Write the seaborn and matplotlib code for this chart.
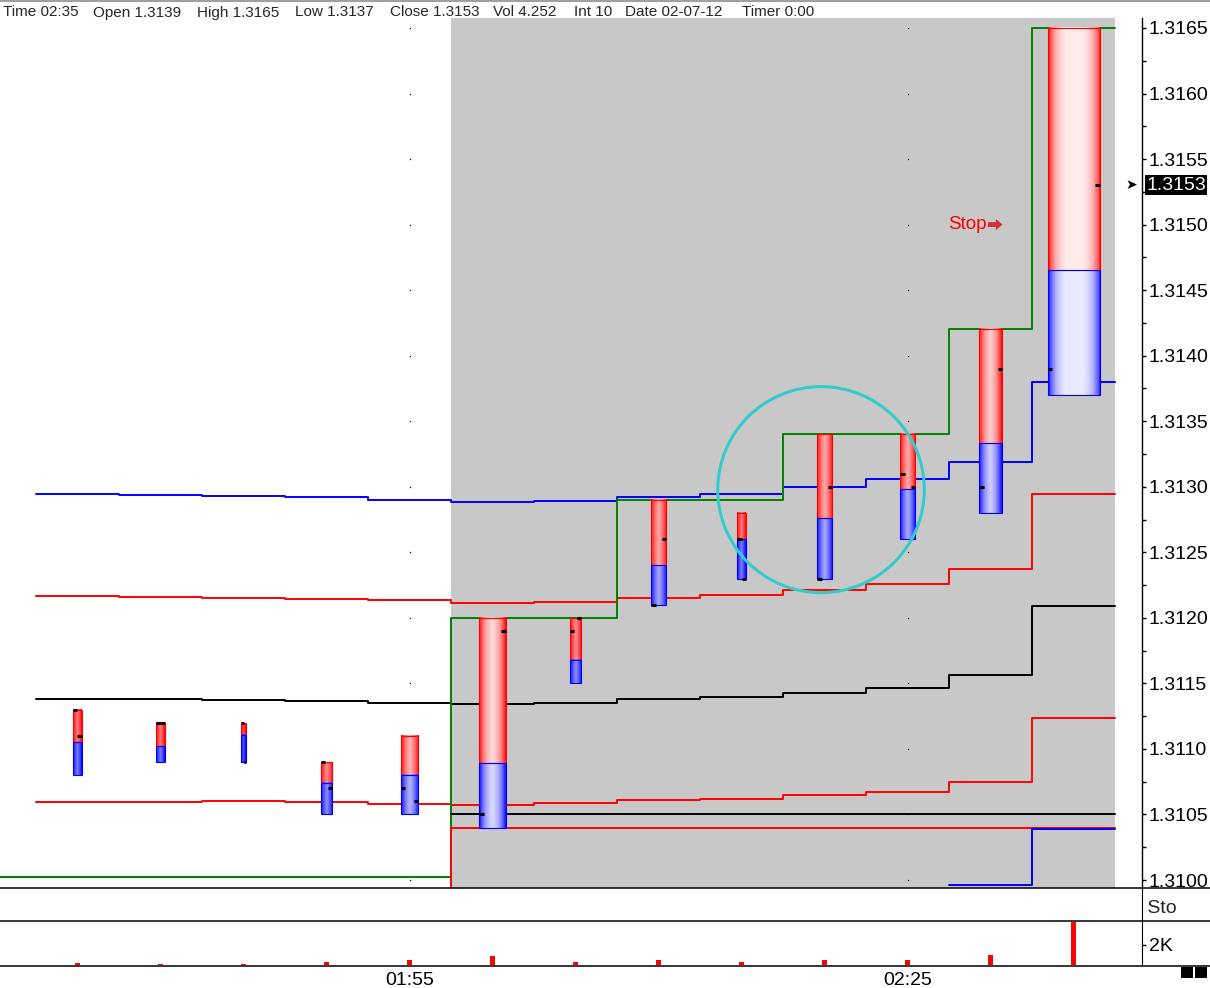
import numpy as np
import seaborn as sb
import matplotlib
matplotlib.use("Agg")
import matplotlib.pyplot as plt
from matplotlib.patches import Rectangle, Ellipse
from matplotlib.lines import Line2D
from matplotlib.ticker import MultipleLocator, FormatStrFormatter

# 5 min bars, 01:35 .. 02:35
times = ["01:35", "01:40", "01:45", "01:50", "01:55", "02:00", "02:05",
         "02:10", "02:15", "02:20", "02:25", "02:30", "02:35"]
opens = [1.3113, 1.3112, 1.3112, 1.3109, 1.3107, 1.3105, 1.3119,
         1.3121, 1.3126, 1.3123, 1.3131, 1.3130, 1.3139]
highs = [1.3113, 1.3112, 1.3112, 1.3109, 1.3111, 1.3120, 1.3120,
         1.3129, 1.3128, 1.3134, 1.3134, 1.3142, 1.3165]
lows = [1.3108, 1.3109, 1.3109, 1.3105, 1.3105, 1.3104, 1.3115,
        1.3121, 1.3123, 1.3123, 1.3126, 1.3128, 1.3137]
closes = [1.3111, 1.3112, 1.3109, 1.3107, 1.3106, 1.3119, 1.3120,
          1.3126, 1.3123, 1.3130, 1.3130, 1.3139, 1.3153]
splits = [1.31105, 1.31102, 1.31111, 1.31074, 1.31080, 1.31089, 1.31168,
          1.31240, 1.31260, 1.31276, 1.31298, 1.31333, 1.31465]
volumes = [230, 100, 100, 330, 540, 910, 330, 540, 330, 540, 540, 1010, 4252]
bar_width = [0.108, 0.108, 0.060, 0.133, 0.205, 0.325, 0.133,
             0.181, 0.108, 0.181, 0.181, 0.277, 0.627]

# bands
upper_blue = [1.312947, 1.312940, 1.312932, 1.312924, 1.312901, 1.312886, 1.312891,
              1.312924, 1.312947, 1.313001, 1.313062, 1.313191, 1.313802]
upper_red = [1.312167, 1.312159, 1.312154, 1.312146, 1.312134, 1.312116, 1.312121,
             1.312151, 1.312177, 1.312212, 1.312258, 1.312373, 1.312945]
mid_black = [1.311383, 1.311383, 1.311376, 1.311368, 1.311350, 1.311345, 1.311353,
             1.311383, 1.311398, 1.311429, 1.311467, 1.311566, 1.312093]
lower_red = [1.310597, 1.310597, 1.310605, 1.310597, 1.310582, 1.310572, 1.310587,
             1.310612, 1.310620, 1.310648, 1.310674, 1.310750, 1.311238]

# session lines (None = not drawn)
sess_high = [1.31002] * 5 + [1.3120, 1.3120, 1.3129, 1.3129, 1.3134, 1.3134, 1.3142, 1.3165]
sess_low = [None] * 4 + [1.3090] + [1.3104] * 8
sess_open = [None] * 5 + [1.3105] * 8
low_blue = [None] * 11 + [1.30996, 1.31039]

header = ["Time 02:35", "Open 1.3139", "High 1.3165", "Low 1.3137", "Close 1.3153",
          "Vol 4.252", "Int 10", "Date 02-07-12", "Timer 0:00"]
header_x = [3, 93, 197, 295, 390, 493, 574, 625, 742]
last_price = 1.3153
time_ticks = [4, 10]

sb.set_style("white")
plt.rcParams["font.family"] = ["Liberation Sans", "DejaVu Sans"]

W, H = 1210, 988
def fx(px):
    return px / W
def fy(py):
    return 1 - py / H

fig = plt.figure(figsize=(12.1, 9.88), dpi=100)
ax = fig.add_axes([0, fy(888), fx(1142), 870 / H])
axs = fig.add_axes([0, fy(921), fx(1142), 33 / H])
axv = fig.add_axes([0, fy(965), fx(1142), 44 / H])

XL = (-0.9337, 12.825)
YL = (1.309939, 1.316576)
px_per_x = 1142 / (XL[1] - XL[0])

ax.axvspan(4.5, 12.5, color="#c8c8c8", lw=0, zorder=0)

# dotted grid at the time ticks
lev = np.arange(1.3100, 1.31651, 0.0005)
for t in time_ticks:
    ax.plot([t] * len(lev), lev, ls="none", marker="s", ms=0.9, mew=0,
            color="black", zorder=1)


def step_line(vals, color, x0=None, lw=1.4):
    pts = [(i, v) for i, v in enumerate(vals) if v is not None]
    xs = [i - 0.5 for i, _ in pts] + [pts[-1][0] + 0.5]
    ys = [v for _, v in pts] + [pts[-1][1]]
    if x0 is not None:
        xs[0] = x0
    sb.lineplot(x=xs, y=ys, ax=ax, color=color, lw=lw, drawstyle="steps-post",
                estimator=None, sort=False, zorder=2)


step_line(upper_blue, "#0000ff")
step_line(upper_red, "#ff0000")
step_line(mid_black, "#000000")
step_line(lower_red, "#ff0000")
step_line(sess_high, "#008000", x0=-1.5)
step_line(sess_low, "#ff0000")
step_line(sess_open, "#000000")
step_line(low_blue, "#0000ff")


def grad(base, w_px, n=64):
    j = np.arange(n)
    d = np.minimum(j + 0.5, n - j - 0.5) / n * w_px
    f = np.clip(1 - np.exp(-d / 7.0), 0, 0.92)
    base = np.array(base, dtype=float)
    col = base[None, :] * (1 - f[:, None]) + f[:, None]
    return col[None, :, :]


for i in range(len(times)):
    w = bar_width[i]
    x0, x1 = i - w / 2, i + w / 2
    wpx = w * px_per_x
    ax.imshow(grad((1, 0, 0), wpx), extent=(x0, x1, splits[i], highs[i]),
              aspect="auto", interpolation="nearest", zorder=3)
    ax.imshow(grad((0, 0, 1), wpx), extent=(x0, x1, lows[i], splits[i]),
              aspect="auto", interpolation="nearest", zorder=3)
    ax.add_patch(Rectangle((x0, splits[i]), w, highs[i] - splits[i], fill=False,
                           ec="#ff0000", lw=0.8, zorder=3.5))
    ax.add_patch(Rectangle((x0, lows[i]), w, splits[i] - lows[i], fill=False,
                           ec="#0000ff", lw=0.8, zorder=3.6))
    tl = min(4.5 / px_per_x, w / 2)
    ax.hlines(opens[i], x0, x0 + tl, color="black", lw=2.2, zorder=5)
    ax.hlines(closes[i], x1 - tl, x1, color="black", lw=2.2, zorder=5)

ax.add_patch(Ellipse((8.958, 1.312978), 2.489, 0.0015716, fill=False,
                     ec="#33cccc", lw=2.2, zorder=6))

ax.text(10.488, 1.31500, "Stop", color="#ff0000", fontsize=13.5, ha="left",
        va="center", zorder=7)
ax.annotate("", xy=(11.145, 1.31500), xytext=(10.97, 1.31500),
            arrowprops=dict(arrowstyle="simple,head_length=0.3,head_width=0.5,tail_width=0.22",
                            color="#d03030", lw=0, shrinkA=0, shrinkB=0,
                            mutation_scale=16), zorder=7)

ax.set_xlim(*XL)
ax.set_ylim(*YL)
ax.yaxis.tick_right()
ax.yaxis.set_major_locator(MultipleLocator(0.0005))
ax.yaxis.set_minor_locator(MultipleLocator(0.00025))
ax.yaxis.set_major_formatter(FormatStrFormatter("%.4f"))
ax.tick_params(axis="y", which="both", direction="out", length=3, width=1,
               right=True, left=False, labelsize=14, pad=2, colors="black")
ax.set_xticks([])
ax.set_xlabel("")
ax.set_ylabel("")
for s in ["left", "top", "bottom"]:
    ax.spines[s].set_visible(False)
ax.spines["right"].set_color("black")
ax.spines["right"].set_linewidth(1)

# current price marker
ax.annotate("1.3153", xy=(1.0, last_price), xycoords=("axes fraction", "data"),
            xytext=(3, 0), textcoords="offset points", color="white",
            fontsize=14, ha="left", va="center",
            bbox=dict(boxstyle="square,pad=0.08", fc="black", ec="none"),
            annotation_clip=False, zorder=8)
ax.annotate("➤", xy=(1.0, last_price), xycoords=("axes fraction", "data"),
            xytext=(-7.5, 0), textcoords="offset points", color="black",
            fontsize=10, ha="center", va="center", family="DejaVu Sans",
            annotation_clip=False)

# Sto panel
axs.set_xlim(*XL)
axs.set_xticks([])
axs.set_yticks([])
for s in ["left", "top", "bottom"]:
    axs.spines[s].set_visible(False)
axs.spines["right"].set_color("black")
axs.text(1.0, 0.38, " Sto", transform=axs.transAxes, fontsize=14,
         ha="left", va="center")

# volume panel
sb.barplot(x=list(range(len(times))), y=volumes, ax=axv, color="#ff0000",
           saturation=1, width=0.06, native_scale=True, linewidth=0)
axv.set_xlim(*XL)
axv.set_ylim(0, 4350)
axv.yaxis.tick_right()
axv.set_yticks([2000])
axv.set_yticklabels(["2K"])
axv.set_xticks(time_ticks)
axv.set_xticklabels([times[t] for t in time_ticks])
axv.tick_params(axis="both", direction="out", length=3, width=1, labelsize=14,
                pad=2, colors="black")
axv.tick_params(axis="y", left=False, right=True)
axv.set_xlabel("")
axv.set_ylabel("")
for s in ["left", "top", "bottom"]:
    axv.spines[s].set_visible(False)
axv.spines["right"].set_color("black")

# panel separators
for py in [888, 921, 965.5]:
    fig.add_artist(Line2D([0, 1], [fy(py), fy(py)], color="black", lw=1.1))
fig.add_artist(Line2D([0, 1], [fy(0.8), fy(0.8)], color="#a0a0a0", lw=1.5))

# header
for txt, x in zip(header, header_x):
    fig.text(fx(x), fy(16.5), txt, fontsize=11, ha="left", va="baseline")

# window icon bottom right
for x0 in [1181, 1195]:
    fig.add_artist(Rectangle((fx(x0), fy(978)), fx(12), 11 / H, transform=fig.transFigure,
                             fc="black", ec="none"))

fig.savefig("out.png", dpi=100)
